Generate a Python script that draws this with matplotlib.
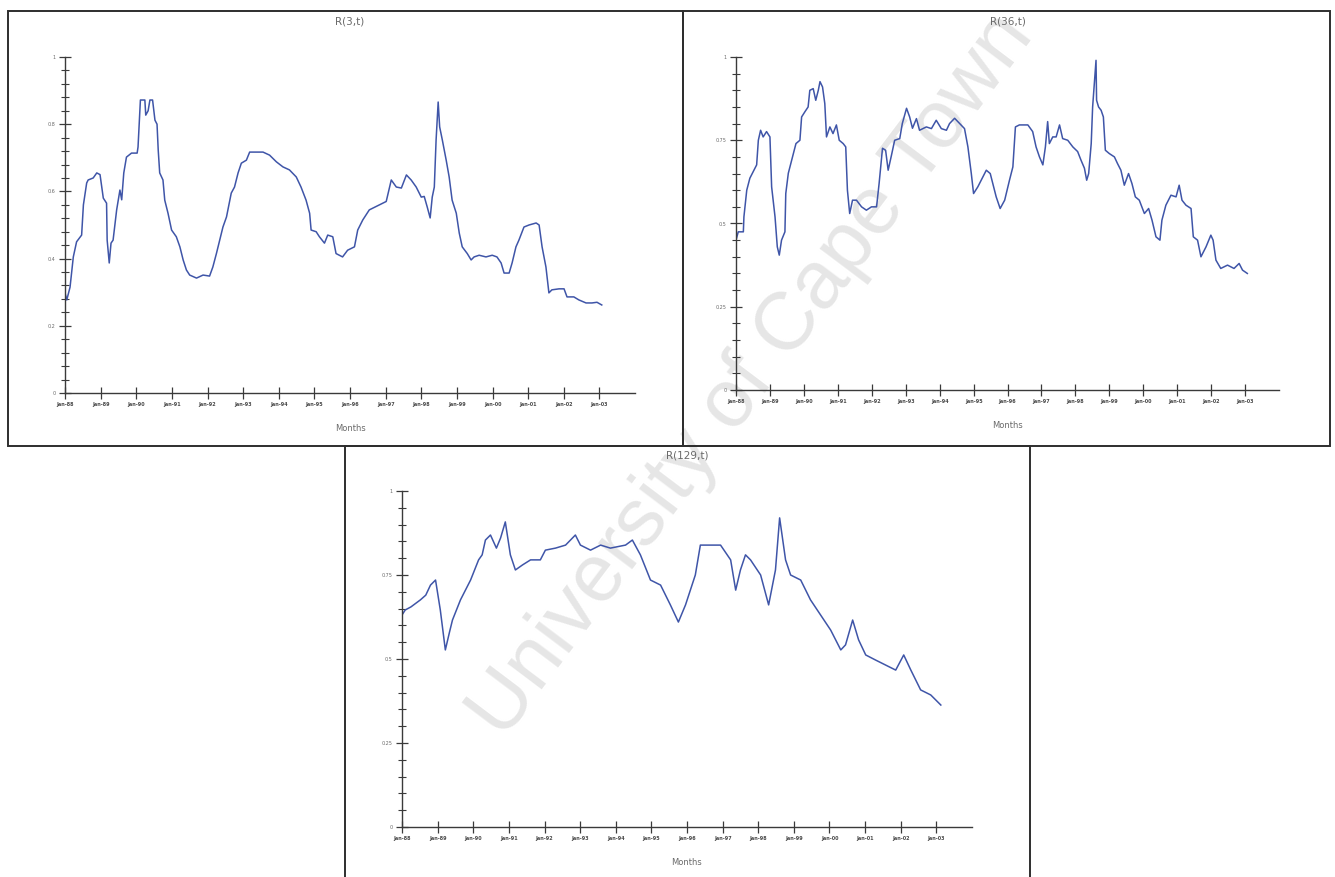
import matplotlib
matplotlib.use("Agg")
import matplotlib.pyplot as plt
import matplotlib.patches as mpatches
from matplotlib.ticker import MultipleLocator

W, H = 1335, 877

# R(3,t): month index and value
r3_months = [0.0, 0.6, 1.7, 2.8, 3.9, 5.6, 6.2, 7.3, 7.8, 9.5, 10.7, 11.8, 12.9, 14.0, 14.2,
             14.9, 15.5, 16.2, 17.4, 18.5, 19.1, 19.8, 20.7, 22.4, 24.3, 24.6, 25.4, 26.9,
             27.2, 28.0, 28.6, 29.5, 30.3, 31.0, 31.4, 31.9, 33.0, 33.6, 34.7, 35.9, 37.5,
             38.7, 39.8, 40.9, 42.0, 44.3, 46.5, 48.7, 49.8, 51.0, 52.1, 53.2, 54.4, 56.0,
             57.1, 58.3, 59.4, 61.1, 62.2, 64.4, 66.7, 68.9, 71.2, 73.4, 75.6, 77.9, 79.5,
             81.2, 82.4, 82.9, 84.6, 85.7, 87.4, 88.5, 90.2, 91.3, 93.5, 95.2, 97.5, 98.6,
             100.3, 102.5, 105.9, 108.2, 109.9, 111.6, 113.3, 115.0, 116.6, 118.3, 120.0,
             121.0, 122.0, 123.0, 123.7, 124.4, 125.0, 125.7, 126.2, 127.1, 128.4, 129.4,
             130.4, 131.8, 132.8, 133.8, 135.5, 136.8, 137.8, 139.5, 141.8, 143.9, 145.5,
             146.9, 147.9, 149.6, 150.6, 151.9, 152.9, 154.6, 156.3, 158.7, 159.7, 160.7,
             162.0, 163.0, 164.0, 166.4, 168.1, 169.1, 171.4, 173.1, 175.5, 177.5, 179.2, 180.8]
r3_values = [0.298, 0.277, 0.315, 0.405, 0.45, 0.47, 0.56, 0.625, 0.634, 0.64, 0.655, 0.65,
             0.58, 0.565, 0.455, 0.387, 0.446, 0.455, 0.545, 0.604, 0.575, 0.655, 0.702, 0.714,
             0.714, 0.732, 0.872, 0.872, 0.827, 0.84, 0.872, 0.872, 0.812, 0.80, 0.723, 0.655,
             0.634, 0.574, 0.535, 0.485, 0.465, 0.435, 0.396, 0.366, 0.351, 0.342, 0.351, 0.348,
             0.375, 0.415, 0.455, 0.494, 0.524, 0.595, 0.613, 0.655, 0.684, 0.693, 0.717, 0.717,
             0.717, 0.708, 0.688, 0.673, 0.664, 0.643, 0.613, 0.574, 0.535, 0.485, 0.48, 0.465,
             0.446, 0.47, 0.465, 0.415, 0.405, 0.425, 0.435, 0.485, 0.515, 0.545, 0.56, 0.57,
             0.634, 0.613, 0.61, 0.649, 0.634, 0.613, 0.583, 0.585, 0.554, 0.521, 0.583, 0.613,
             0.753, 0.866, 0.792, 0.753, 0.693, 0.643, 0.574, 0.535, 0.476, 0.435, 0.415, 0.396,
             0.405, 0.41, 0.405, 0.41, 0.405, 0.387, 0.357, 0.357, 0.387, 0.435, 0.455, 0.494,
             0.50, 0.506, 0.50, 0.435, 0.375, 0.298, 0.307, 0.31, 0.31, 0.286, 0.286, 0.277,
             0.268, 0.268, 0.27, 0.262]

# R(36,t)
r36_months = [0.2, 0.8, 2.6, 2.8, 3.8, 4.9, 6.1, 7.3, 7.9, 8.7, 9.6, 10.8, 12.0, 12.6, 13.8,
              14.6, 15.3, 16.1, 17.3, 17.6, 18.5, 19.7, 21.2, 22.6, 23.2, 24.4, 25.5, 26.1,
              27.3, 28.2, 29.1, 29.7, 30.6, 31.4, 32.0, 33.2, 34.3, 35.5, 36.5, 37.9, 38.8,
              39.4, 40.2, 41.2, 42.6, 44.4, 46.1, 47.9, 49.7, 50.6, 51.8, 52.9, 53.8, 55.0,
              56.1, 57.9, 58.8, 60.3, 61.4, 62.4, 63.8, 64.9, 67.3, 69.1, 70.8, 72.6, 74.4,
              75.5, 77.3, 79.1, 80.8, 82.0, 83.2, 84.0, 85.5, 86.7, 88.5, 89.9, 90.8, 92.0,
              93.4, 95.0, 96.7, 97.9, 98.8, 100.2, 103.2, 104.9, 106.1, 107.3, 108.5, 109.4,
              110.2, 110.8, 112.0, 113.2, 114.4, 115.5, 117.3, 119.1, 120.8, 122.0, 123.2,
              124.0, 124.7, 125.6, 126.1, 126.7, 127.3, 127.5, 128.2, 129.1, 129.9, 130.6,
              132.0, 133.8, 134.9, 136.1, 137.3, 138.8, 140.0, 141.2, 142.6, 144.4, 145.9,
              147.1, 148.5, 149.9, 150.6, 152.0, 153.8, 155.6, 156.7, 157.7, 159.1, 160.9,
              161.7, 163.2, 164.4, 166.2, 167.9, 168.7, 169.7, 171.4, 173.8, 176.1, 177.9,
              179.1, 180.8]
r36_values = [0.456, 0.475, 0.475, 0.52, 0.60, 0.636, 0.656, 0.676, 0.75, 0.78, 0.76, 0.776,
              0.76, 0.61, 0.52, 0.43, 0.405, 0.45, 0.475, 0.59, 0.651, 0.69, 0.74, 0.75, 0.82,
              0.836, 0.85, 0.90, 0.905, 0.87, 0.90, 0.926, 0.91, 0.86, 0.76, 0.79, 0.77, 0.796,
              0.75, 0.74, 0.73, 0.60, 0.53, 0.57, 0.57, 0.55, 0.54, 0.55, 0.55, 0.62, 0.726,
              0.72, 0.66, 0.706, 0.75, 0.755, 0.80, 0.846, 0.82, 0.786, 0.815, 0.78, 0.79,
              0.785, 0.81, 0.785, 0.78, 0.80, 0.816, 0.80, 0.785, 0.73, 0.65, 0.59, 0.61, 0.63,
              0.66, 0.65, 0.62, 0.58, 0.545, 0.57, 0.63, 0.67, 0.79, 0.796, 0.796, 0.776, 0.73,
              0.70, 0.676, 0.73, 0.806, 0.74, 0.76, 0.76, 0.796, 0.755, 0.75, 0.73, 0.716, 0.69,
              0.666, 0.63, 0.65, 0.74, 0.85, 0.92, 0.99, 0.87, 0.85, 0.84, 0.82, 0.72, 0.71,
              0.70, 0.68, 0.66, 0.615, 0.65, 0.62, 0.58, 0.57, 0.53, 0.545, 0.51, 0.46, 0.45,
              0.51, 0.555, 0.585, 0.58, 0.615, 0.57, 0.555, 0.545, 0.46, 0.45, 0.40, 0.43,
              0.465, 0.45, 0.39, 0.365, 0.375, 0.365, 0.38, 0.36, 0.35]

# R(129,t)
r129_months = [0.0, 1.1, 3.0, 6.2, 8.0, 9.6, 11.3, 12.9, 14.6, 16.0, 17.0, 19.7, 23.1, 25.8,
               27.0, 28.1, 29.8, 31.8, 33.2, 34.8, 36.5, 38.2, 40.6, 43.3, 46.6, 48.3, 51.7,
               55.1, 58.4, 60.1, 63.5, 66.9, 70.2, 75.3, 77.6, 80.3, 83.7, 87.1, 90.4, 93.1,
               95.5, 98.8, 100.5, 103.3, 107.3, 110.7, 112.4, 114.0, 115.7, 117.4, 120.8,
               123.5, 125.8, 127.2, 129.2, 130.9, 134.3, 137.6, 141.0, 144.4, 147.8, 149.4,
               151.8, 153.8, 156.2, 159.5, 162.9, 166.3, 169.0, 171.4, 174.7, 178.1, 181.5]
r129_values = [0.631, 0.646, 0.655, 0.676, 0.69, 0.72, 0.735, 0.646, 0.527, 0.58, 0.616,
               0.676, 0.735, 0.795, 0.81, 0.854, 0.869, 0.83, 0.86, 0.908, 0.81, 0.765, 0.78,
               0.795, 0.795, 0.824, 0.83, 0.839, 0.869, 0.839, 0.824, 0.839, 0.83, 0.839, 0.854,
               0.81, 0.735, 0.72, 0.661, 0.61, 0.661, 0.75, 0.839, 0.839, 0.839, 0.795, 0.705,
               0.765, 0.81, 0.795, 0.75, 0.661, 0.765, 0.92, 0.795, 0.75, 0.735, 0.676, 0.631,
               0.586, 0.527, 0.542, 0.616, 0.557, 0.512, 0.497, 0.482, 0.467, 0.512, 0.467,
               0.408, 0.393, 0.363]

tick_months = list(range(0, 181, 12))
tick_labels = ['Jan-88', 'Jan-89', 'Jan-90', 'Jan-91', 'Jan-92', 'Jan-93', 'Jan-94', 'Jan-95',
               'Jan-96', 'Jan-97', 'Jan-98', 'Jan-99', 'Jan-00', 'Jan-01', 'Jan-02', 'Jan-03']

line_color = '#3f55a8'
axis_color = '#3a3a3a'
text_color = '#6a6a6a'


def px_box(x0, y0, x1, y1):
    """Convert a pixel box (top-left origin) into figure fractions."""
    return [x0 / W, 1 - y1 / H, (x1 - x0) / W, (y1 - y0) / H]


def draw_panel(rect, months, values, title, major, minor, title_y):
    ax = fig.add_axes(px_box(*rect))
    ax.set_facecolor('none')
    ax.plot(months, values, color=line_color, lw=1.1)
    ax.set_xlim(0, 192)
    ax.set_ylim(0, 1)

    for side in ('top', 'right'):
        ax.spines[side].set_visible(False)
    for side in ('left', 'bottom'):
        ax.spines[side].set_color(axis_color)
        ax.spines[side].set_linewidth(1.0)

    ax.set_xticks(tick_months)
    ax.set_xticklabels(tick_labels, fontsize=3.5, color='#4a4a4a', fontweight='bold')
    ax.yaxis.set_major_locator(MultipleLocator(major))
    ax.yaxis.set_minor_locator(MultipleLocator(minor))
    ax.yaxis.set_major_formatter(plt.FuncFormatter(lambda v, p: f'{v:g}'))
    ax.tick_params(axis='x', direction='inout', length=9, width=0.9,
                   color=axis_color, pad=2)
    ax.tick_params(axis='y', which='major', direction='inout', length=8, width=0.9,
                   color=axis_color, labelsize=3.5, labelcolor=text_color, pad=3)
    ax.tick_params(axis='y', which='minor', direction='inout', length=6, width=0.8,
                   color=axis_color)

    ax.set_xlabel('Months', fontsize=6, color=text_color, labelpad=12)
    cx = (rect[0] + rect[2]) / 2
    fig.text(cx / W, 1 - title_y / H, title, fontsize=7.5, color=text_color,
             ha='center', va='center')
    return ax


fig = plt.figure(figsize=(W / 100, H / 100), dpi=100)

# faint watermark running diagonally across the page
fig.text(752 / W, 1 - 376 / H, 'University of Cape Town', rotation=53,
         fontsize=59, color='#e6e6e6', ha='center', va='center',
         rotation_mode='anchor', family='Liberation Sans', zorder=-1)

# frames around each chart
for x0, y0, x1, y1 in [(8, 11, 683, 446), (683, 11, 1330, 446), (345, 446, 1030, 880)]:
    fig.patches.append(mpatches.Rectangle(
        (x0 / W, 1 - y1 / H), (x1 - x0) / W, (y1 - y0) / H,
        transform=fig.transFigure, fill=False, edgecolor='#2e2e2e', lw=1.4))

draw_panel((65, 57, 635, 393), r3_months, r3_values, 'R(3,t)', 0.2, 0.04, 22)
draw_panel((736, 57, 1279, 390), r36_months, r36_values, 'R(36,t)', 0.25, 0.05, 22)
draw_panel((402, 491, 972, 827), r129_months, r129_values, 'R(129,t)', 0.25, 0.05, 456)

fig.savefig('out.png', dpi=100)
